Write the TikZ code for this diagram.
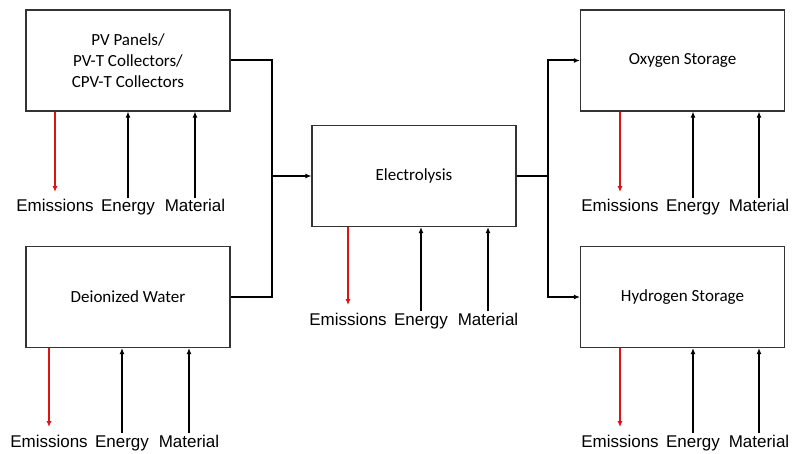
\documentclass[tikz,border=0pt]{standalone}
\usepackage{fontspec}
\setmainfont{Carlito}
\newfontfamily\labelfont{Liberation Sans}
\usetikzlibrary{arrows.meta}

\definecolor{emitred}{RGB}{222,20,20}

\begin{document}
\begin{tikzpicture}[
  x=1pt, y=-1pt,
  >={Latex[length=6pt,width=5pt]},
  unit/.style={draw=black!80, line width=1.1pt, minimum width=204pt, minimum height=101pt,
    inner sep=0pt, align=center, font=\fontsize{17}{21}\selectfont},
  lbl/.style={anchor=base, inner sep=1.5pt, text height=12.2pt,
    font=\labelfont\fontsize{17}{20}\selectfont},
  emit/.style={->, draw=emitred, line width=1.5pt, shorten >=6pt},
  feed/.style={->, line width=1.5pt},
  link/.style={line width=2pt},
  flow/.style={->, line width=2pt}
]
  \useasboundingbox (0,0) rectangle (792,454);

  % process boxes
  \node[unit] (pv) at (128,60.5) {PV Panels/\\PV-T Collectors/\\CPV-T Collectors};
  \node[unit] (dw) at (128,297) {Deionized Water};
  \node[unit] (el) at (414,176) {Electrolysis};
  \node[unit] (ox) at (682.5,60.5) {Oxygen Storage};
  \node[unit] (hy) at (682.5,297) {Hydrogen Storage};

  % junctions
  \coordinate (jl) at (272,176);
  \coordinate (jr) at (548,176);

  \draw[link] (pv.east) -| (jl) |- (dw.east);
  \draw[flow] (jl) -- (el.west);
  \draw[link] (el.east) -- (jr);
  \draw[flow] (jr) |- (ox.west);
  \draw[flow] (jr) |- (hy.west);

  % inputs and outputs
  \node[lbl] (pvEm) at (55,212) {Emissions};
  \node[lbl] (pvEn) at (128,212) {Energy};
  \node[lbl] (pvMa) at (195,212) {Material};
  \draw[emit] (pvEm.north |- pv.south) -- (pvEm.north);
  \draw[feed] (pvEn.north) -- (pvEn.north |- pv.south);
  \draw[feed] (pvMa.north) -- (pvMa.north |- pv.south);

  \node[lbl] (dwEm) at (49,447) {Emissions};
  \node[lbl] (dwEn) at (122,447) {Energy};
  \node[lbl] (dwMa) at (189,447) {Material};
  \draw[emit] (dwEm.north |- dw.south) -- (dwEm.north);
  \draw[feed] (dwEn.north) -- (dwEn.north |- dw.south);
  \draw[feed] (dwMa.north) -- (dwMa.north |- dw.south);

  \node[lbl] (elEm) at (348,325) {Emissions};
  \node[lbl] (elEn) at (421,325) {Energy};
  \node[lbl] (elMa) at (488,325) {Material};
  \draw[emit] (elEm.north |- el.south) -- (elEm.north);
  \draw[feed] (elEn.north) -- (elEn.north |- el.south);
  \draw[feed] (elMa.north) -- (elMa.north |- el.south);

  \node[lbl] (oxEm) at (620,212) {Emissions};
  \node[lbl] (oxEn) at (693,212) {Energy};
  \node[lbl] (oxMa) at (759,212) {Material};
  \draw[emit] (oxEm.north |- ox.south) -- (oxEm.north);
  \draw[feed] (oxEn.north) -- (oxEn.north |- ox.south);
  \draw[feed] (oxMa.north) -- (oxMa.north |- ox.south);

  \node[lbl] (hyEm) at (620,447) {Emissions};
  \node[lbl] (hyEn) at (693,447) {Energy};
  \node[lbl] (hyMa) at (759,447) {Material};
  \draw[emit] (hyEm.north |- hy.south) -- (hyEm.north);
  \draw[feed] (hyEn.north) -- (hyEn.north |- hy.south);
  \draw[feed] (hyMa.north) -- (hyMa.north |- hy.south);
\end{tikzpicture}
\end{document}
